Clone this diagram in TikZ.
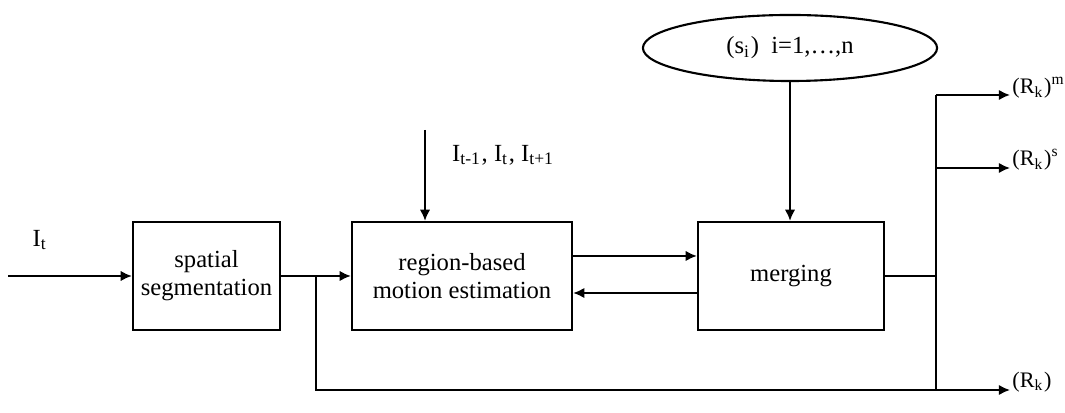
\documentclass[tikz,border=0pt]{standalone}
\usepackage{fontspec}
\setmainfont{Liberation Serif}
\usetikzlibrary{arrows.meta,shapes.geometric}
\begin{document}
\begin{tikzpicture}[x=0.01cm,y=-0.01cm,
  every node/.style={font=\fontsize{7}{8}\selectfont},
  block/.style={draw,line width=0.6pt,minimum width=#1,minimum height=1.08cm,inner sep=0pt,align=center},
  flow/.style={line width=0.6pt,-{Latex[length=3.2pt,width=3pt]}},
  wire/.style={line width=0.6pt},
  lbl/.style={inner sep=1pt},
  outlbl/.style={inner sep=0.5pt,anchor=west,font=\fontsize{6.3}{7}\selectfont}]
\useasboundingbox (0,0) rectangle (1065,413);

% blocks
\node[block=1.47cm] (seg) at (206.5,276) {spatial\\segmentation};
\node[block=2.2cm] (mot) at (462,276) {region-based\\motion estimation};
\node[block=1.86cm] (mrg) at (791,276) {merging};
\node[draw,ellipse,line width=0.6pt,minimum width=2.94cm,minimum height=0.66cm,inner sep=0pt] (set) at (790,48) {(s\textsubscript{i})\ \ i=1,\dots,n};

% free ends and branch points
\coordinate (in) at (8,276);
\coordinate (top) at (425,130);
\coordinate (b1) at (316,276);
\coordinate (b2) at (316,390);
\coordinate (j) at (936,276);
\coordinate (jm) at (936,95);
\coordinate (js) at (936,168);
\coordinate (jr) at (936,390);
\coordinate (om) at (1010,95);
\coordinate (os) at (1010,168);
\coordinate (or) at (1010,390);

% input and frames
\draw[flow] (in) -- (seg.west);
\node[lbl] at (40,240) {I\textsubscript{t}};
\draw[flow] (top) -- (top |- mot.north);
\node[lbl,anchor=west] at (448,155) {I\textsubscript{t-1}, I\textsubscript{t}, I\textsubscript{t+1}};

% main chain: estimate forward, merged result fed back
\draw[flow] ([yshift=0.2cm]mot.east) -- ([yshift=0.2cm]mrg.west);
\draw[flow] ([yshift=-0.17cm]mrg.west) -- ([yshift=-0.17cm]mot.east);
\draw[flow] (seg.east) -- (mot.west);
\draw[flow] (set.south) -- (set.south |- mrg.north);

% bypass of the segmentation result
\draw[wire] (b1) -- (b2) -- (jr);

% outputs
\draw[wire] (mrg.east) -- (j);
\draw[wire] (jm) -- (jr);
\draw[flow] (jm) -- (om);
\draw[flow] (js) -- (os);
\draw[flow] (jr) -- (or);
\node[outlbl] at (1010,88) {(R\textsubscript{k})\textsuperscript{m}};
\node[outlbl] at (1010,160) {(R\textsubscript{k})\textsuperscript{s}};
\node[outlbl] at (1010,382) {(R\textsubscript{k})};
\end{tikzpicture}
\end{document}
